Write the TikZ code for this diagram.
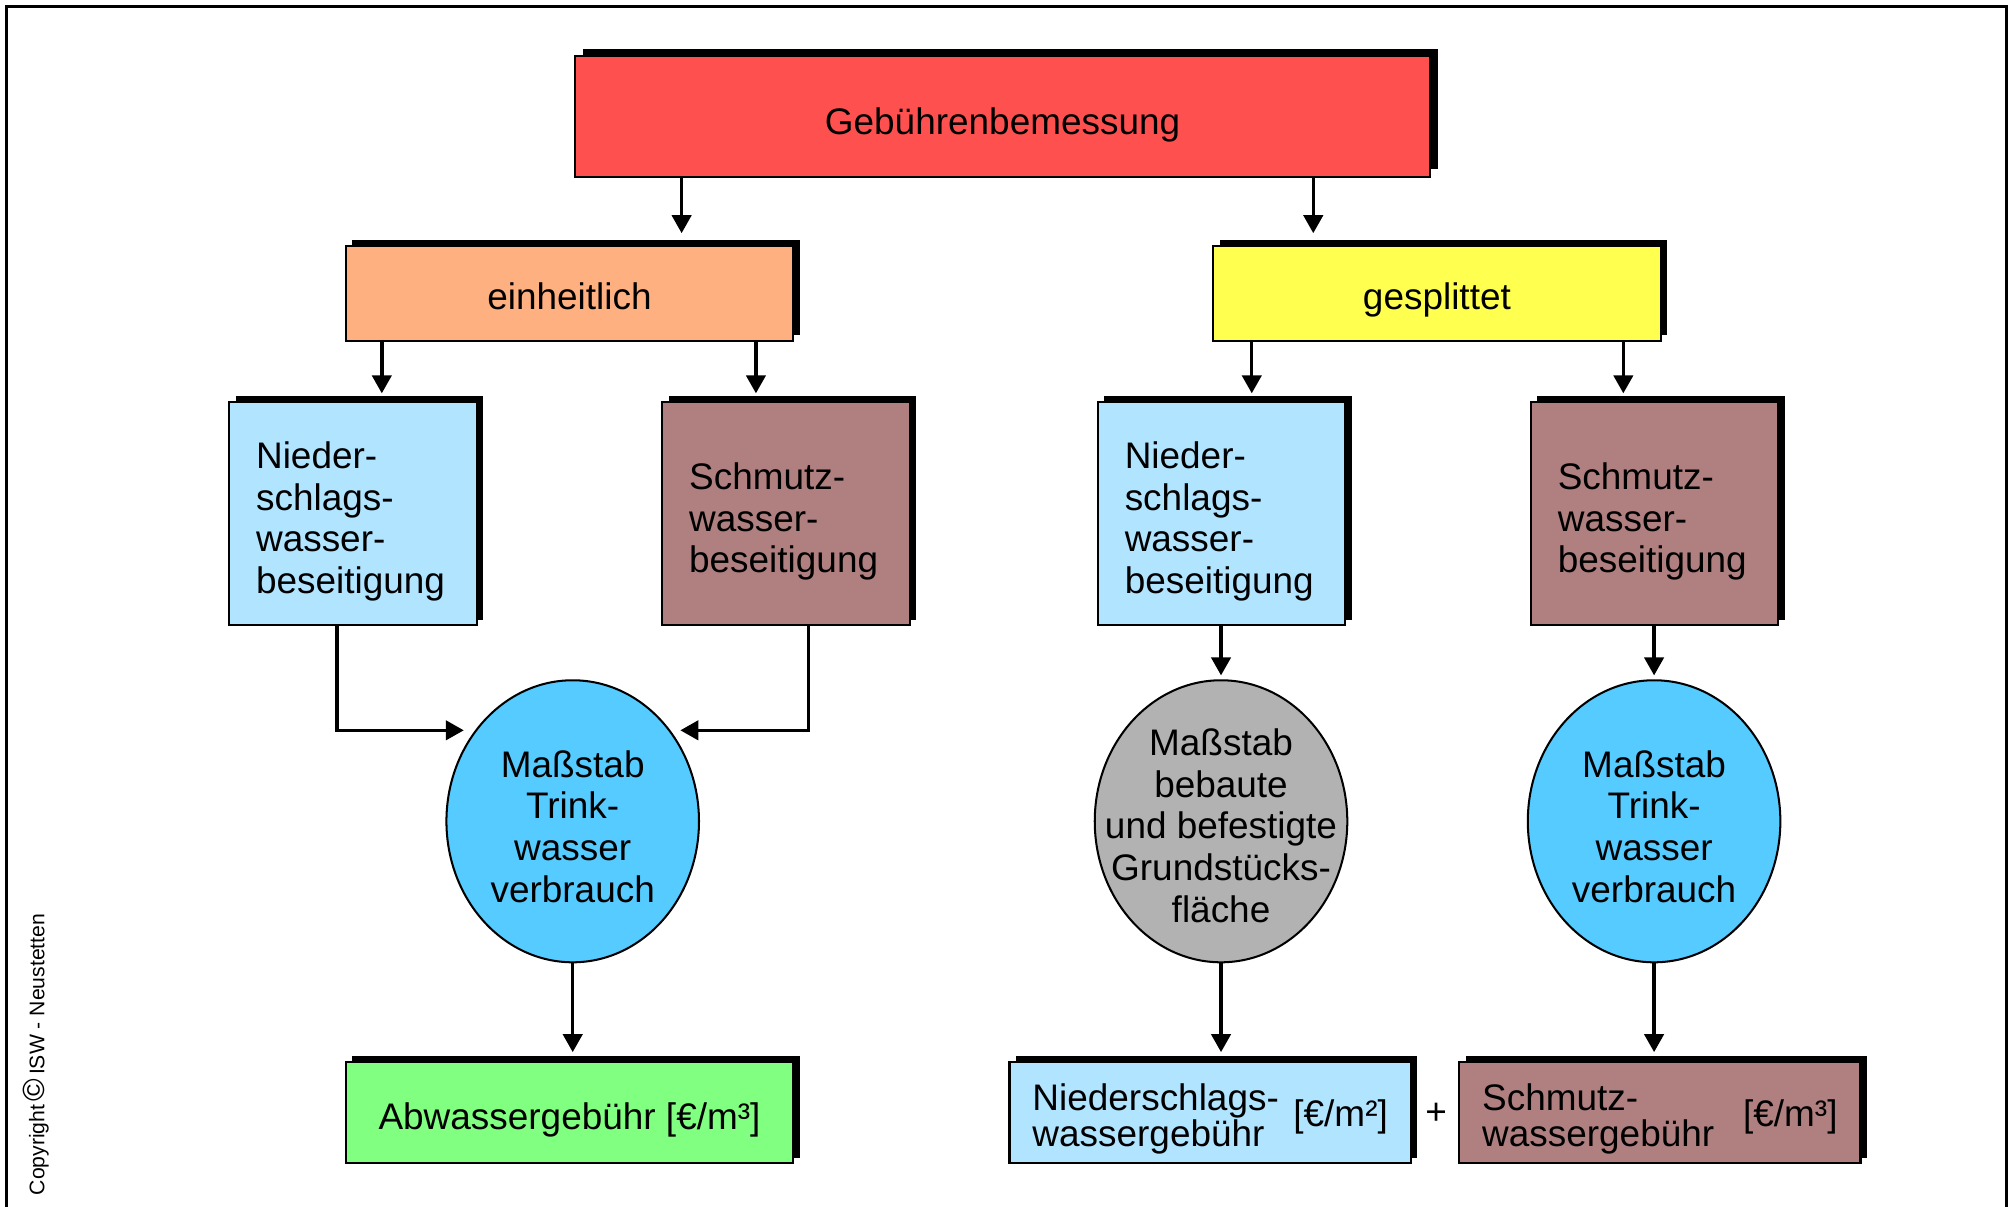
\documentclass[tikz,border=0pt]{standalone}
\usepackage{fontspec}
\setmainfont{Liberation Sans}
\usetikzlibrary{arrows.meta,shapes.geometric,shadows}
\definecolor{cRed}{HTML}{FF5050}
\definecolor{cOrange}{HTML}{FFB080}
\definecolor{cYellow}{HTML}{FFFF50}
\definecolor{cBlue}{HTML}{B0E4FF}
\definecolor{cBrown}{HTML}{B08080}
\definecolor{cEll}{HTML}{55CBFF}
\definecolor{cGray}{HTML}{B2B2B2}
\definecolor{cGreen}{HTML}{80FF80}
\begin{document}
\begin{tikzpicture}[x=0.01cm,y=-0.01cm,
  txt/.style={font=\fontsize{8.2pt}{9.25pt}\selectfont,inner sep=0pt},
  txtb/.style={font=\fontsize{8.2pt}{8pt}\selectfont,inner sep=0pt},
  one/.style={txt,text height=0.73em,text depth=0.21em},
  sh/.style={drop shadow={fill=black,opacity=1,shadow xshift=0.05cm,shadow yshift=0.045cm}},
  shbig/.style={drop shadow={fill=black,opacity=1,shadow xshift=0.065cm,shadow yshift=0.06cm}},
  box/.style={draw=black,line width=0.45pt,rectangle,inner sep=0pt},
  rbox/.style={box,sh,minimum width=1.93cm,minimum height=1.74cm},
  bbox/.style={box,sh,minimum height=0.79cm},
  ell/.style={draw=black,line width=0.45pt,ellipse,inner sep=0pt,minimum width=1.97cm,minimum height=2.2cm},
  arr/.style={line width=0.75pt,-{Triangle[length=0.14cm,width=0.15cm]}},
]
\useasboundingbox (0,0) rectangle (1568,942);
% frame
\draw[line width=0.55pt] (5,942) -- (5,5) -- (1566,5) -- (1566,942);

% top
\node[box,shbig,fill=cRed,minimum width=6.67cm,minimum height=0.94cm] (top) at (782.5,91) {};
\node[one] (topt) at ([yshift=-0.045cm]top.center) {Gebührenbemessung};
\node[box,sh,fill=cOrange,minimum width=3.49cm,minimum height=0.74cm] (ein) at (444.5,229) {};
\node[one] (eint) at ([yshift=-0.035cm]ein.center) {einheitlich};
\node[box,sh,fill=cYellow,minimum width=3.49cm,minimum height=0.74cm] (ges) at (1121.5,229) {};
\node[one] (gest) at ([yshift=-0.035cm]ges.center) {gesplittet};

% row 3
\node[rbox,fill=cBlue] (nl) at (275.5,401) {};
\node[rbox,fill=cBrown] (sl) at (613.5,401) {};
\node[rbox,fill=cBlue] (nr) at (953.5,401) {};
\node[rbox,fill=cBrown] (sr) at (1291.5,401) {};
\node[txt,align=left,anchor=west] (nlt) at ([xshift=0.21cm,yshift=-0.06cm]nl.west) {Nieder-\\schlags-\\wasser-\\beseitigung};
\node[txt,align=left,anchor=west] (slt) at ([xshift=0.21cm,yshift=-0.06cm]sl.west) {Schmutz-\\wasser-\\beseitigung};
\node[txt,align=left,anchor=west] (nrt) at ([xshift=0.21cm,yshift=-0.06cm]nr.west) {Nieder-\\schlags-\\wasser-\\beseitigung};
\node[txt,align=left,anchor=west] (srt) at ([xshift=0.21cm,yshift=-0.06cm]sr.west) {Schmutz-\\wasser-\\beseitigung};

% ellipses
\node[ell,fill=cEll] (ml) at (447,641) {};
\node[ell,fill=cGray] (mm) at (953,641) {};
\node[ell,fill=cEll] (mr) at (1291,641) {};
\node[txt,align=center] (mlt) at ([yshift=-0.04cm]ml.center) {Maßstab\\Trink-\\wasser\\verbrauch};
\node[txt,align=center] (mmt) at ([yshift=-0.035cm]mm.center) {Maßstab\\bebaute\\und befestigte\\Grundstücks-\\fläche};
\node[txt,align=center] (mrt) at ([yshift=-0.04cm]mr.center) {Maßstab\\Trink-\\wasser\\verbrauch};

% bottom
\node[bbox,fill=cGreen,minimum width=3.49cm] (abw) at (444.5,868.5) {};
\node[one] (abwt) at ([yshift=-0.04cm]abw.center) {Abwassergebühr [€/m³]};
\node[bbox,fill=cBlue,minimum width=3.13cm] (nb) at (944.5,868.5) {};
\node[bbox,fill=cBrown,minimum width=3.13cm] (sb) at (1295.5,868.5) {};
\node[txtb,anchor=west,align=left] (nbt) at ([xshift=0.18cm,yshift=-0.05cm]nb.west) {Niederschlags-\\wassergebühr};
\node[txtb,anchor=east] (nbu) at ([xshift=-0.18cm,yshift=-0.035cm]nb.east) {[€/m²]};
\node[txtb,anchor=west,align=left] (sbt) at ([xshift=0.18cm,yshift=-0.05cm]sb.west) {Schmutz-\\wassergebühr};
\node[txtb,anchor=east] (sbu) at ([xshift=-0.18cm,yshift=-0.035cm]sb.east) {[€/m³]};
\node[txt] (plus) at (1121,869) {+};

% copyright
\node[rotate=90,inner sep=0pt,font=\fontsize{4.7pt}{5pt}\selectfont] (copy) at (28,823) {Copyright\,{\fontsize{6.8pt}{6.8pt}\selectfont ©}\,ISW - Neustetten};

% arrows
\coordinate (a1) at (532,182);
\coordinate (a2) at (1025,182);
\draw[arr] (top.south -| a1) -- (a1);
\draw[arr] (top.south -| a2) -- (a2);
\coordinate (a3) at (298,307);
\coordinate (a4) at (590,307);
\coordinate (a5) at (977,307);
\coordinate (a6) at (1267,307);
\draw[arr] (ein.south -| a3) -- (a3);
\draw[arr] (ein.south -| a4) -- (a4);
\draw[arr] (ges.south -| a5) -- (a5);
\draw[arr] (ges.south -| a6) -- (a6);

\coordinate (j1) at (263,570);
\coordinate (t1) at (362,570);
\coordinate (j2) at (631,570);
\coordinate (t2) at (531,570);
\draw[arr] (nl.south -| j1) -- (j1) -- (t1);
\draw[arr] (sl.south -| j2) -- (j2) -- (t2);
\draw[arr] (nr.south -| mm.north) -- ([yshift=0.03cm]mm.north);
\draw[arr] (sr.south -| mr.north) -- ([yshift=0.03cm]mr.north);

\draw[arr] (ml.south) -- ([yshift=0.07cm]abw.north -| ml.south);
\draw[arr] (mm.south) -- ([yshift=0.07cm]nb.north -| mm.south);
\draw[arr] (mr.south) -- ([yshift=0.07cm]sb.north -| mr.south);
\end{tikzpicture}
\end{document}
